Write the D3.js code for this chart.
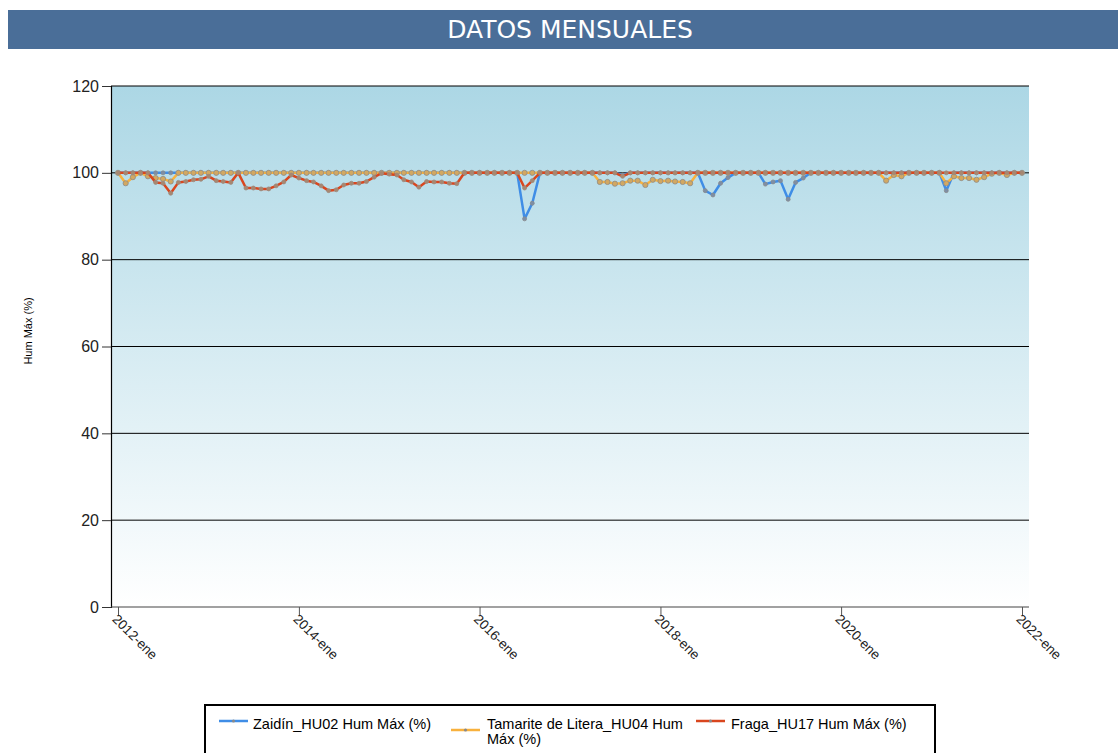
<!DOCTYPE html>
<html>
<head>
<meta charset="utf-8">
<script src="https://cdn.jsdelivr.net/npm/d3@7"></script>
<style>
  html, body { margin: 0; padding: 0; background: #ffffff; }
  svg { display: block; font-family: "Liberation Sans", Arial, sans-serif; }
</style>
</head>
<body>
<svg id="chart" width="1118" height="753"></svg>
<script>
// ---------------- DATA ----------------
const title = "DATOS MENSUALES";
const yAxisTitle = "Hum Máx (%)";
const startMonth = new Date(2012, 0, 1);
const endMonth = new Date(2022, 0, 1);
const months = d3.timeMonth.range(startMonth, d3.timeMonth.offset(endMonth, 1)); // 2012-ene .. 2022-ene (121)
const yTicks = [0, 20, 40, 60, 80, 100, 120];
const xTickYears = [2012, 2014, 2016, 2018, 2020, 2022];
const monthAbbr = "ene";

const seriesNames = ["Zaidín_HU02 Hum Máx (%)", "Tamarite de Litera_HU04 Hum Máx (%)", "Fraga_HU17 Hum Máx (%)"];

const zaidin = [
  100,100,100,100,100,100,100,100,100,100,100,100,   // 2012
  100,100,100,100,100,100,100,100,100,100,100,100,   // 2013
  100,100,100,100,100,100,100,100,100,100,100,100,   // 2014
  100,100,100,100,100,100,100,100,100,100,100,100,   // 2015
  100,100,100,100,100,100,89.4,93.0,100,100,100,100, // 2016
  100,100,100,100,100,100,100,99.5,100,100,100,100,  // 2017
  100,100,100,100,100,100,95.9,94.9,97.6,98.9,100,100, // 2018
  100,100,97.4,97.9,98.2,93.9,97.8,98.8,100,100,100,100, // 2019
  100,100,100,100,100,100,100,100,100,100,100,100,   // 2020
  100,100,95.9,100,100,100,100,100,100,100,100,100,  // 2021
  100                                                // 2022-ene
];

const tamarite = [
  100,97.6,99.0,100,99.2,98.8,98.6,98.0,100,100,100,100, // 2012
  100,100,100,100,100,100,100,100,100,100,100,100,   // 2013
  100,100,100,100,100,100,100,100,100,100,100,100,   // 2014
  100,100,100,100,100,100,100,100,100,100,100,100,   // 2015
  100,100,100,100,100,100,100,100,100,100,100,100,   // 2016
  100,100,100,100,97.9,97.9,97.5,97.6,98.2,98.2,97.2,98.4, // 2017
  98.1,98.2,98.0,97.9,97.6,100,100,100,100,100,100,100, // 2018
  100,100,100,100,100,100,100,100,100,100,100,100,   // 2019
  100,100,100,100,100,100,98.2,99.5,99.2,100,100,100, // 2020
  100,100,97.6,99.2,98.8,98.8,98.4,99.0,99.8,100,99.5,100, // 2021
  100                                                // 2022-ene
];

const fraga = [
  100,100,100,100,100,97.8,97.6,95.3,97.8,98.0,98.4,98.5, // 2012
  99.2,98.2,98.0,97.8,100,96.5,96.5,96.3,96.3,97.0,97.9,99.5, // 2013
  98.8,98.2,97.9,97.0,95.9,96.1,97.2,97.6,97.6,98.0,99.0,99.9, // 2014
  99.7,99.5,98.4,97.9,96.7,98.0,97.9,97.9,97.6,97.5,100,100, // 2015
  100,100,100,100,100,100,96.5,98.2,100,100,100,100, // 2016
  100,100,100,100,100,100,100,99.2,100,100,100,100,  // 2017
  100,100,100,100,100,100,100,100,100,100,100,100,   // 2018
  100,100,100,100,100,100,100,100,100,100,100,100,   // 2019
  100,100,100,100,100,100,100,100,100,100,100,100,   // 2020
  100,100,100,100,100,100,100,100,100,100,100,100,   // 2021
  100                                                // 2022-ene
];

const seriesValues = [zaidin, tamarite, fraga];
const seriesColors = ["#3f8de6", "#f8b13d", "#d9461e"];

// ---------------- LAYOUT ----------------
const svg = d3.select("#chart");
const W = 1118;

// title bar
svg.append("rect").attr("x", 8).attr("y", 10).attr("width", W - 8).attr("height", 39)
  .attr("fill", "#4a6e98");
svg.append("text").attr("x", 570).attr("y", 38).attr("text-anchor", "middle")
  .attr("fill", "#ffffff").attr("font-size", 25)
  .attr("font-family", "DejaVu Sans, Verdana, sans-serif").text(title);

const plotLeft = 111, plotRight = 1029, plotTop = 86, plotBottom = 607;

const x = d3.scaleTime().domain([startMonth, endMonth]).range([118, 1022]);
const y = d3.scaleLinear().domain([0, 120]).range([plotBottom, plotTop]);

// background gradient
const defs = svg.append("defs");
const grad = defs.append("linearGradient").attr("id", "bg").attr("x1", 0).attr("y1", 0).attr("x2", 0).attr("y2", 1);
grad.append("stop").attr("offset", "0%").attr("stop-color", "#acd7e5");
grad.append("stop").attr("offset", "100%").attr("stop-color", "#ffffff");
svg.append("rect").attr("x", plotLeft).attr("y", plotTop)
  .attr("width", plotRight - plotLeft).attr("height", plotBottom - plotTop)
  .attr("fill", "url(#bg)");

// gridlines
svg.append("g").selectAll("line").data(yTicks.filter(d => d > 0)).join("line")
  .attr("x1", plotLeft).attr("x2", plotRight)
  .attr("y1", d => y(d)).attr("y2", d => y(d))
  .attr("stroke", "#000").attr("stroke-width", 1);

// y axis
const yAxis = d3.axisLeft(y).tickValues(yTicks).tickSize(9).tickPadding(3).tickFormat(d3.format("d"));
const gy = svg.append("g").attr("transform", `translate(${plotLeft},0)`).call(yAxis);
gy.select(".domain").attr("stroke", "#000").attr("stroke-width", 1.2);
gy.selectAll(".tick line").attr("stroke", "#333");
gy.selectAll(".tick text").attr("font-size", 16).attr("fill", "#222")
  .attr("font-family", "Liberation Sans, Arial, sans-serif");

// x axis
const xTickDates = xTickYears.map(yr => new Date(yr, 0, 1));
const xAxis = d3.axisBottom(x).tickValues(xTickDates).tickSize(8)
  .tickFormat(d => `${d.getFullYear()}-${monthAbbr}`);
const gx = svg.append("g").attr("transform", `translate(0,${plotBottom})`).call(xAxis);
gx.select(".domain").attr("stroke", "#444").attr("stroke-width", 1.2)
  .attr("d", `M${plotLeft},0H${plotRight}`);
gx.selectAll(".tick line").attr("stroke", "#555");
gx.selectAll(".tick text")
  .attr("font-size", 13.5).attr("fill", "#222").attr("font-family", "Liberation Sans, Arial, sans-serif")
  .attr("text-anchor", "start").attr("dy", null).attr("y", 0).attr("x", 0)
  .attr("transform", "translate(-7,13) rotate(45)");

// y axis title
svg.append("text").attr("transform", "translate(32,331) rotate(-90)")
  .attr("text-anchor", "middle").attr("font-size", 11).attr("fill", "#000").text(yAxisTitle);

// series
const line = d3.line().x((d, i) => x(months[i])).y(d => y(d));
const markerR = [2, 2.6, 2];
const markerFill = ["#7d8ea6", "#d2a862", "#a9876f"];
const markerStroke = ["#8a8a8a", "#8c8c8c", "#9a8a80"];
seriesValues.forEach((vals, s) => {
  const g = svg.append("g");
  g.append("path").datum(vals).attr("d", line).attr("fill", "none")
    .attr("stroke", seriesColors[s]).attr("stroke-width", 2.5).attr("stroke-linejoin", "round");
  g.selectAll("circle").data(vals).join("circle")
    .attr("cx", (d, i) => x(months[i])).attr("cy", d => y(d)).attr("r", markerR[s])
    .attr("fill", markerFill[s]).attr("stroke", markerStroke[s]).attr("stroke-width", 0.8);
});

// legend
svg.append("rect").attr("x", 205).attr("y", 705).attr("width", 730).attr("height", 70)
  .attr("fill", "#fff").attr("stroke", "#000").attr("stroke-width", 2);
const legendItems = [
  { x: 219, ly: 721, tx: 253, lines: ["Zaidín_HU02 Hum Máx (%)"] },
  { x: 451, ly: 730, tx: 487, lines: ["Tamarite de Litera_HU04 Hum", "Máx (%)"] },
  { x: 696, ly: 721, tx: 731, lines: ["Fraga_HU17 Hum Máx (%)"] }
];
legendItems.forEach((it, s) => {
  svg.append("line").attr("x1", it.x).attr("x2", it.x + 29).attr("y1", it.ly).attr("y2", it.ly)
    .attr("stroke", seriesColors[s]).attr("stroke-width", 2.5);
  svg.append("circle").attr("cx", it.x + 14.5).attr("cy", it.ly).attr("r", 1.6).attr("fill", "#8a8a8a");
  const t = svg.append("text").attr("x", it.tx).attr("y", 729).attr("font-size", 14.5).attr("fill", "#000");
  it.lines.forEach((ln, k) => t.append("tspan").attr("x", it.tx).attr("dy", k === 0 ? 0 : 15).text(ln));
});
</script>
</body>
</html>
